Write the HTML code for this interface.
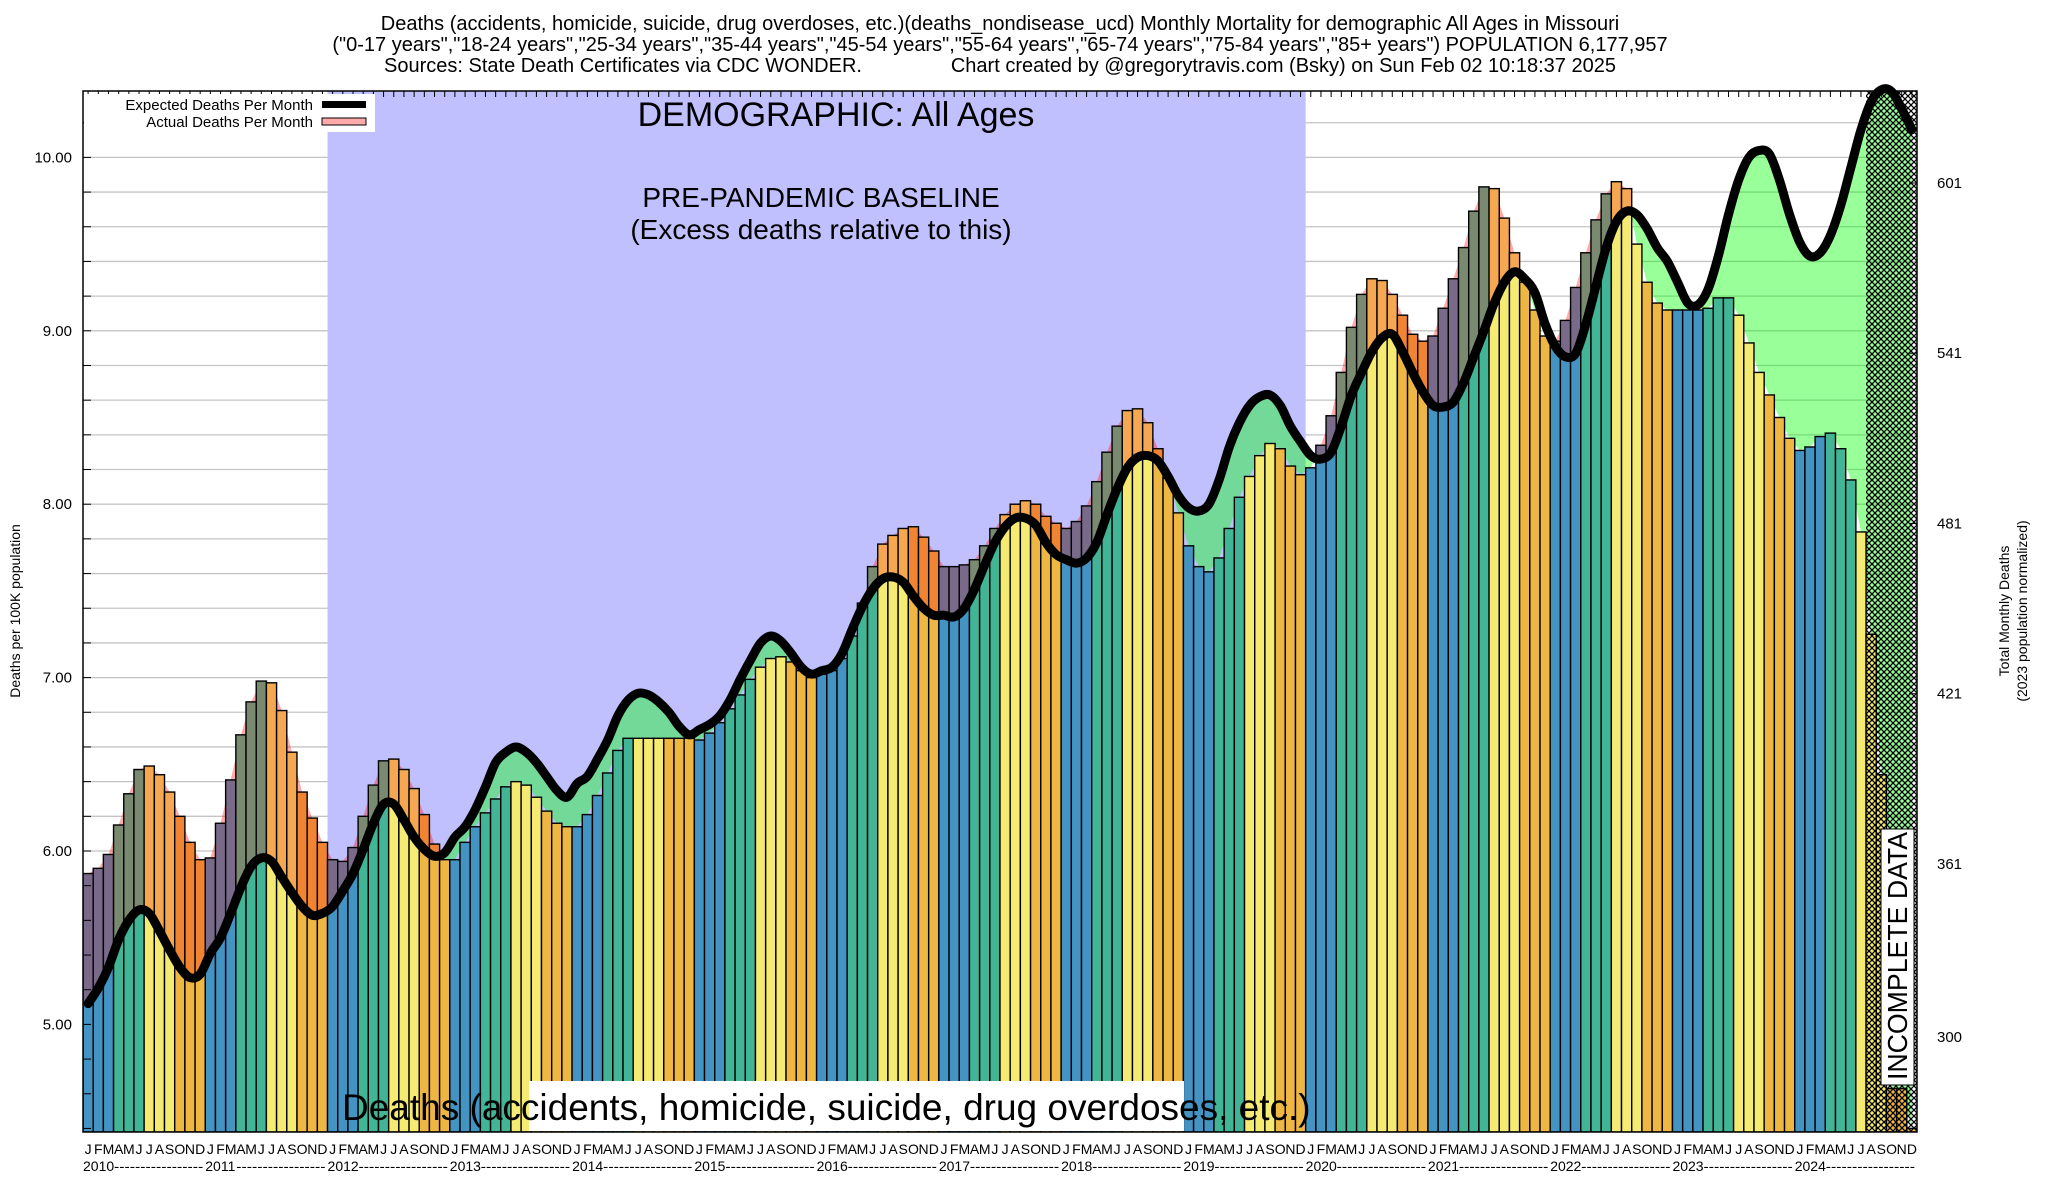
<!DOCTYPE html>
<html><head><meta charset="utf-8"><style>
html,body{margin:0;padding:0;background:#fff;}
svg{display:block;font-family:"Liberation Sans",sans-serif;}
</style></head><body>
<svg id="chart" width="2048" height="1200" viewBox="0 0 2048 1200" xmlns="http://www.w3.org/2000/svg">
<defs>
<pattern id="hatch" width="6" height="6" patternUnits="userSpaceOnUse">
<path d="M0,0 L6,6 M6,0 L0,6" stroke="#000" stroke-width="1.3"/>
</pattern>
<clipPath id="plotclip"><rect x="83" y="91" width="1834" height="1041"/></clipPath>
</defs>
<g font-size="20" text-anchor="middle" fill="#000">
<text x="1000" y="30">Deaths (accidents, homicide, suicide, drug overdoses, etc.)(deaths_nondisease_ucd) Monthly Mortality for demographic All Ages in Missouri</text>
<text x="1000" y="51">("0-17 years","18-24 years","25-34 years","35-44 years","45-54 years","55-64 years","65-74 years","75-84 years","85+ years") POPULATION 6,177,957</text>
<text x="1000" y="72" style="white-space:pre" xml:space="preserve">Sources: State Death Certificates via CDC WONDER.                Chart created by @gregorytravis.com (Bsky) on Sun Feb 02 10:18:37 2025</text>
</g>
<g id="plot" clip-path="url(#plotclip)"></g>
<g id="over"></g>
</svg>
<script>
const years = ['2010','2011','2012','2013','2014','2015','2016','2017','2018','2019','2020','2021','2022','2023','2024'];
const monthLetters = ['J','F','M','A','M','J','J','A','S','O','N','D'];
const actualDeaths = [
5.87,5.90,5.98,6.15,6.33,6.47,6.49,6.44,6.34,6.20,6.05,5.95,
5.96,6.16,6.41,6.67,6.86,6.98,6.97,6.81,6.57,6.34,6.19,6.05,
5.95,5.94,6.02,6.20,6.38,6.52,6.53,6.47,6.36,6.21,6.04,5.95,
5.95,6.05,6.14,6.22,6.30,6.37,6.40,6.38,6.31,6.23,6.16,6.14,
6.14,6.21,6.32,6.45,6.58,6.65,6.65,6.65,6.65,6.65,6.65,6.65,
6.64,6.68,6.74,6.82,6.90,6.99,7.06,7.11,7.12,7.09,7.04,7.00,
7.02,7.04,7.11,7.24,7.43,7.64,7.77,7.82,7.86,7.87,7.81,7.73,
7.64,7.64,7.65,7.68,7.76,7.86,7.94,8.00,8.02,8.00,7.93,7.89,
7.86,7.90,7.99,8.13,8.30,8.45,8.54,8.55,8.47,8.32,8.15,7.95,
7.76,7.64,7.61,7.69,7.86,8.04,8.16,8.28,8.35,8.32,8.22,8.17,
8.21,8.34,8.51,8.76,9.02,9.21,9.30,9.29,9.21,9.09,8.98,8.94,
8.97,9.13,9.30,9.48,9.69,9.83,9.82,9.65,9.45,9.28,9.12,8.97,
8.94,9.06,9.25,9.45,9.64,9.79,9.86,9.82,9.50,9.28,9.16,9.12,
9.12,9.12,9.12,9.13,9.19,9.19,9.09,8.93,8.76,8.63,8.50,8.38,
8.31,8.33,8.39,8.41,8.32,8.14,7.84,7.25,6.44,4.63,4.63,4.40];
const expectedDeaths = [
5.12,5.21,5.33,5.49,5.60,5.66,5.64,5.54,5.43,5.33,5.27,5.29,
5.41,5.50,5.64,5.79,5.91,5.96,5.94,5.85,5.76,5.68,5.63,5.64,
5.68,5.77,5.87,6.01,6.16,6.27,6.27,6.18,6.08,6.01,5.97,5.99,
6.08,6.14,6.24,6.37,6.51,6.57,6.60,6.57,6.51,6.43,6.35,6.31,
6.39,6.43,6.53,6.64,6.78,6.87,6.91,6.90,6.86,6.80,6.72,6.67,
6.70,6.73,6.78,6.87,6.99,7.10,7.20,7.24,7.21,7.14,7.06,7.02,
7.04,7.06,7.14,7.28,7.41,7.51,7.57,7.58,7.55,7.47,7.40,7.36,
7.36,7.35,7.40,7.51,7.65,7.78,7.87,7.92,7.92,7.88,7.78,7.71,
7.68,7.66,7.69,7.78,7.94,8.09,8.21,8.27,8.28,8.25,8.16,8.05,
7.98,7.96,8.00,8.14,8.33,8.47,8.57,8.62,8.63,8.57,8.45,8.36,
8.28,8.26,8.30,8.45,8.63,8.76,8.88,8.96,8.98,8.88,8.76,8.65,
8.57,8.56,8.59,8.70,8.85,9.00,9.16,9.28,9.34,9.30,9.22,9.04,
8.91,8.85,8.87,9.04,9.26,9.48,9.63,9.69,9.67,9.59,9.48,9.40,
9.28,9.16,9.15,9.24,9.43,9.67,9.87,10.00,10.04,10.02,9.87,9.67,
9.51,9.43,9.45,9.55,9.72,9.94,10.16,10.32,10.39,10.38,10.28,10.16];
const leftTicks = ['5.00','6.00','7.00','8.00','9.00','10.00'];
const rightTicks = ['601','541','481','421','361','300'];
const baselineStartIndex = 24, baselineEndIndex = 120, incompleteStartIndex = 175;

const NS='http://www.w3.org/2000/svg';
const svg=document.getElementById('chart');
const plot=document.getElementById('plot');
const X0=83,X1=1917,Y0=91,Y1=1132;
const n=actualDeaths.length, bw=(X1-X0)/n;
const xL=i=>X0+i*bw, xC=i=>X0+(i+0.5)*bw;
const yS=v=>851-(v-6)*173.4;
const yR=l=>1037-(l-300)*(854/301);
function mk(tag,attrs,parent){const e=document.createElementNS(NS,tag);for(const k in attrs)e.setAttribute(k,attrs[k]);(parent||svg).appendChild(e);return e;}

let e=mk('rect',{x:X0,y:Y0,width:X1-X0,height:Y1-Y0,fill:'#fff'},plot);


for(let v=4.4;v<10.39;v+=0.2){
  e=mk('line',{x1:X0,x2:X1,y1:yS(v),y2:yS(v),stroke:'#c4c4c4','stroke-width':1.3},plot);
  
  
}
e=mk('rect',{x:xL(baselineStartIndex),y:Y0,width:xL(baselineEndIndex)-xL(baselineStartIndex),height:Y1-Y0,fill:'#c0c0ff'},plot);



const aPts=actualDeaths.map((v,i)=>[xC(i),yS(v)]);
const ePts=expectedDeaths.map((v,i)=>[xC(i),yS(v)]);
function ptsStr(p){return p.map(q=>q[0].toFixed(1)+','+q[1].toFixed(1)).join(' ');}
const defs=svg.querySelector('defs');
let cpA=mk('clipPath',{id:'aboveActual'},defs);
mk('polygon',{points:ptsStr([[X0-20,Y0-50],[X0-20,aPts[0][1]],...aPts,[X1+20,aPts[n-1][1]],[X1+20,Y0-50]])},cpA);
let cpE=mk('clipPath',{id:'aboveExpected'},defs);
mk('polygon',{points:ptsStr([[X0-20,Y0-50],[X0-20,ePts[0][1]],...ePts,[X1+20,ePts[n-1][1]],[X1+20,Y0-50]])},cpE);
e=mk('polygon',{points:ptsStr([[ePts[0][0],Y1],...ePts,[ePts[n-1][0],Y1]]),fill:'rgba(0,255,0,0.4)','clip-path':'url(#aboveActual)'},plot);


e=mk('polygon',{points:ptsStr([[aPts[0][0],Y1],...aPts,[aPts[n-1][0],Y1]]),fill:'rgba(255,0,0,0.33)','clip-path':'url(#aboveExpected)'},plot);



const baseCol=['#4393c3','#41b596','#f5eb73','#eeb643'];
const excCol=['#7a6a8a','#7a8a70','#f5a851','#f08432'];
for(let i=0;i<n;i++){
  const q=Math.floor((i%12)/3);
  const a=actualDeaths[i], ex=expectedDeaths[i];
  const top=yS(a), mid=yS(Math.min(a,ex));
  let b=mk('rect',{x:xL(i),y:mid,width:bw,height:Y1-mid,fill:baseCol[q]},plot);
  
  
  if(a>ex){
    let x=mk('rect',{x:xL(i),y:top,width:bw,height:mid-top,fill:excCol[q]},plot);
    
    
  }
  let o=mk('rect',{x:xL(i),y:top,width:bw,height:Y1-top,fill:'none',stroke:'#000','stroke-width':1.4},plot);
  
  
}
e=mk('rect',{x:xL(incompleteStartIndex),y:Y0,width:X1-xL(incompleteStartIndex),height:Y1-Y0,fill:'url(#hatch)'},plot);



let d='M'+ePts[0][0]+','+ePts[0][1];
for(let i=0;i<n-1;i++){
  const p0=ePts[Math.max(i-1,0)],p1=ePts[i],p2=ePts[i+1],p3=ePts[Math.min(i+2,n-1)];
  const c1=[p1[0]+(p2[0]-p0[0])/6,p1[1]+(p2[1]-p0[1])/6];
  const c2=[p2[0]-(p3[0]-p1[0])/6,p2[1]-(p3[1]-p1[1])/6];
  d+=' C'+c1[0].toFixed(1)+','+c1[1].toFixed(1)+' '+c2[0].toFixed(1)+','+c2[1].toFixed(1)+' '+p2[0].toFixed(1)+','+p2[1].toFixed(1);
}
e=mk('path',{d:d,fill:'none',stroke:'#000','stroke-width':9,'stroke-linejoin':'round','stroke-linecap':'round'},svg);



e=mk('rect',{x:X0,y:Y0,width:X1-X0,height:Y1-Y0,fill:'none',stroke:'#000','stroke-width':1.5},svg);


for(let i=0;i<n;i++){
  e=mk('line',{x1:xC(i),x2:xC(i),y1:Y0,y2:Y0+6,stroke:'#000','stroke-width':1},svg);
  
  
}
for(let v=4.4;v<10.39;v+=0.2){
  e=mk('line',{x1:X0,x2:X0+8,y1:yS(v),y2:yS(v),stroke:'#000','stroke-width':1},svg);
  
  
}
leftTicks.forEach(t=>{
  const el=mk('text',{x:72,y:yS(parseFloat(t))+5,'font-size':15,'text-anchor':'end'},svg);
  el.textContent=t;
  
  
});
rightTicks.forEach(t=>{
  const y=yR(parseFloat(t));
  const tk=mk('line',{x1:X1-8,x2:X1,y1:y,y2:y,stroke:'#000','stroke-width':1},svg);
  
  
  const el=mk('text',{x:1937,y:y+5,'font-size':15},svg);
  el.textContent=t;
  
  
});
for(let i=0;i<n;i++){
  const el=mk('text',{x:xC(i),y:1154,'font-size':14,'text-anchor':'middle'},svg);
  el.textContent=monthLetters[i%12];
  
  
}
years.forEach((yr,k)=>{
  const el=mk('text',{x:xL(k*12),y:1171,'font-size':14},svg);
  el.textContent=yr;
  
  
  const ds=mk('text',{x:xL(k*12)+31,y:1171,'font-size':14,textLength:(12*bw-33).toFixed(1),lengthAdjust:'spacingAndGlyphs'},svg);
  ds.textContent='-----------------';
  
  
});
</script>
<svg style="position:absolute;left:0;top:0" width="2048" height="1200">
<g font-family="Liberation Sans, sans-serif">
<rect x="84" y="94" width="291" height="38" fill="#fff"/>
<text x="313" y="110" font-size="15" text-anchor="end">Expected Deaths Per Month</text>
<rect x="322" y="101" width="44" height="7" fill="#000"/>
<text x="313" y="127" font-size="15" text-anchor="end">Actual Deaths Per Month</text>
<rect x="322" y="118" width="44" height="7" fill="#ffaaaa" stroke="#000" stroke-width="1"/>
<text x="836" y="126" font-size="34" text-anchor="middle">DEMOGRAPHIC: All Ages</text>
<text x="821" y="207" font-size="28" text-anchor="middle">PRE-PANDEMIC BASELINE</text>
<text x="821" y="239" font-size="28" text-anchor="middle">(Excess deaths relative to this)</text>
<rect x="529" y="1081" width="655" height="50" fill="#fff"/>
<text x="342" y="1120" font-size="37">Deaths (accidents, homicide, suicide, drug overdoses, etc.)</text>
<rect x="1881" y="829" width="33" height="256" fill="#fff" stroke="#000" stroke-width="1"/>
<text transform="translate(1907,1080) rotate(-90)" font-size="28" textLength="248" lengthAdjust="spacingAndGlyphs">INCOMPLETE DATA</text>
<text transform="translate(20,611) rotate(-90)" font-size="14" text-anchor="middle">Deaths per 100K population</text>
<text transform="translate(2009,611) rotate(-90)" font-size="14" text-anchor="middle">Total Monthly Deaths</text>
<text transform="translate(2027,611) rotate(-90)" font-size="14" text-anchor="middle">(2023 population normalized)</text>
</g>
</svg>
</body></html>
